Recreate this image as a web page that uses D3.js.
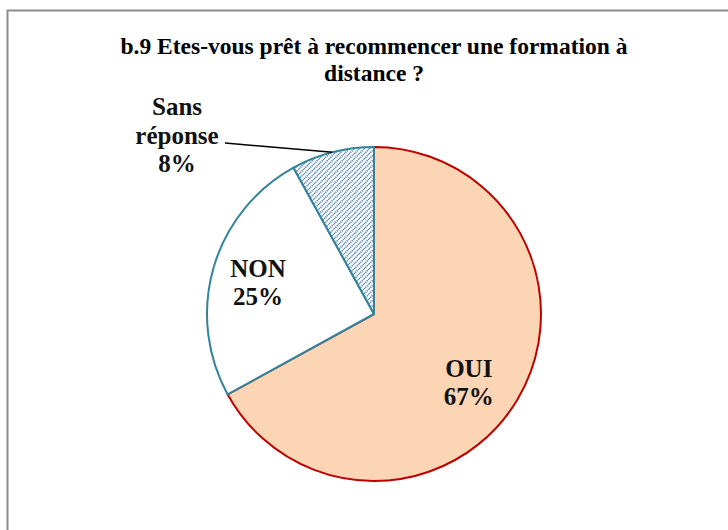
<!DOCTYPE html>
<html>
  <head>
    <meta charset="utf-8">
    <script src="https://cdn.jsdelivr.net/npm/d3@7"></script>
  </head>
  <body style="margin:0">
    <script>
      // chart data
      var labels = ["OUI", "NON", "Sans réponse"];
      var values = [67, 25, 8];
      var titleLines = ["b.9 Etes-vous prêt à recommencer une formation à", "distance ?"];

      var width = 728;
      var height = 530;
      var serif = "Liberation Serif";

      var svg = d3.select("body")
                  .append("svg")
                  .attr("width", width)
                  .attr("height", height);

      // hatch pattern for the "Sans réponse" slice
      var pattern = svg.append("defs")
                       .append("pattern")
                       .attr("id", "hatch")
                       .attr("patternUnits", "userSpaceOnUse")
                       .attr("width", 5)
                       .attr("height", 5);
      pattern.append("rect")
             .attr("width", 5)
             .attr("height", 5)
             .attr("fill", "#ffffff");
      pattern.append("path")
             .attr("d", "M-1,1 l2,-2 M0,5 l5,-5 M4,6 l2,-2")
             .attr("stroke", "#4f81bd")
             .attr("stroke-width", 1.6)
             .attr("stroke-dasharray", "1.2,0.8");

      // outer frame of the chart area
      svg.append("rect")
         .attr("x", 7.5)
         .attr("y", 10.5)
         .attr("width", 740)
         .attr("height", 540)
         .attr("fill", "none")
         .attr("stroke", "#8c8c8c")
         .attr("stroke-width", 2);

      // title
      svg.selectAll("text.title")
         .data(titleLines)
         .enter()
         .append("text")
         .attr("class", "title")
         .attr("x", 374)
         .attr("y", function(d, i){ return 54 + i * 27; })
         .attr("text-anchor", "middle")
         .attr("font-family", serif)
         .attr("font-weight", "bold")
         .attr("font-size", 23.5)
         .text(function(d){ return d; });

      var cx = 374, cy = 314, r = 167;
      var fills = ["#fcd5b5", "#ffffff", "url(#hatch)"];
      var strokes = ["#c00000", "#31849b", "#31849b"];

      var pie = d3.pie().sort(null).value(function(d){ return d; });
      var arcs = pie(values);
      var arc = d3.arc().innerRadius(0).outerRadius(r);

      var g = svg.append("g")
                 .attr("transform", "translate(" + cx + "," + cy + ")");

      g.selectAll("path.slice")
       .data(arcs)
       .enter()
       .append("path")
       .attr("class", "slice")
       .attr("d", arc)
       .attr("fill", function(d, i){ return fills[i]; })
       .attr("stroke", function(d, i){ return strokes[i]; })
       .attr("stroke-width", 2)
       .attr("stroke-linejoin", "round");

      // labels inside the slices (OUI, NON)
      var labelArc = d3.arc().innerRadius(r * 0.68).outerRadius(r * 0.68);
      var inside = [
        {i: 0, dx: -3, dy: 5},
        {i: 1, dx: -7, dy: -5}
      ];
      inside.forEach(function(o){
        var c = labelArc.centroid(arcs[o.i]);
        var t = g.append("text")
                 .attr("text-anchor", "middle")
                 .attr("font-family", serif)
                 .attr("font-weight", "bold")
                 .attr("font-size", 25)
                 .attr("fill", "#111111");
        t.append("tspan")
         .attr("x", c[0] + o.dx)
         .attr("y", c[1] + o.dy)
         .text(labels[o.i]);
        t.append("tspan")
         .attr("x", c[0] + o.dx)
         .attr("y", c[1] + o.dy + 28)
         .text(values[o.i] + "%");
      });

      // outside label with leader line for "Sans réponse"
      var s = arcs[2];
      var mid = (s.startAngle + s.endAngle) / 2;
      var px = Math.sin(mid) * r;
      var py = -Math.cos(mid) * r;
      g.append("line")
       .attr("x1", -149)
       .attr("y1", -171)
       .attr("x2", px)
       .attr("y2", py)
       .attr("stroke", "#000000")
       .attr("stroke-width", 1.5);

      var words = ["Sans", "réponse", values[2] + "%"];
      var st = g.append("text")
                .attr("text-anchor", "middle")
                .attr("font-family", serif)
                .attr("font-weight", "bold")
                .attr("font-size", 25)
                .attr("fill", "#111111");
      words.forEach(function(w, i){
        st.append("tspan")
          .attr("x", -197)
          .attr("y", -199 + i * 28.5)
          .text(w);
      });
    </script>
  </body>
</html>
